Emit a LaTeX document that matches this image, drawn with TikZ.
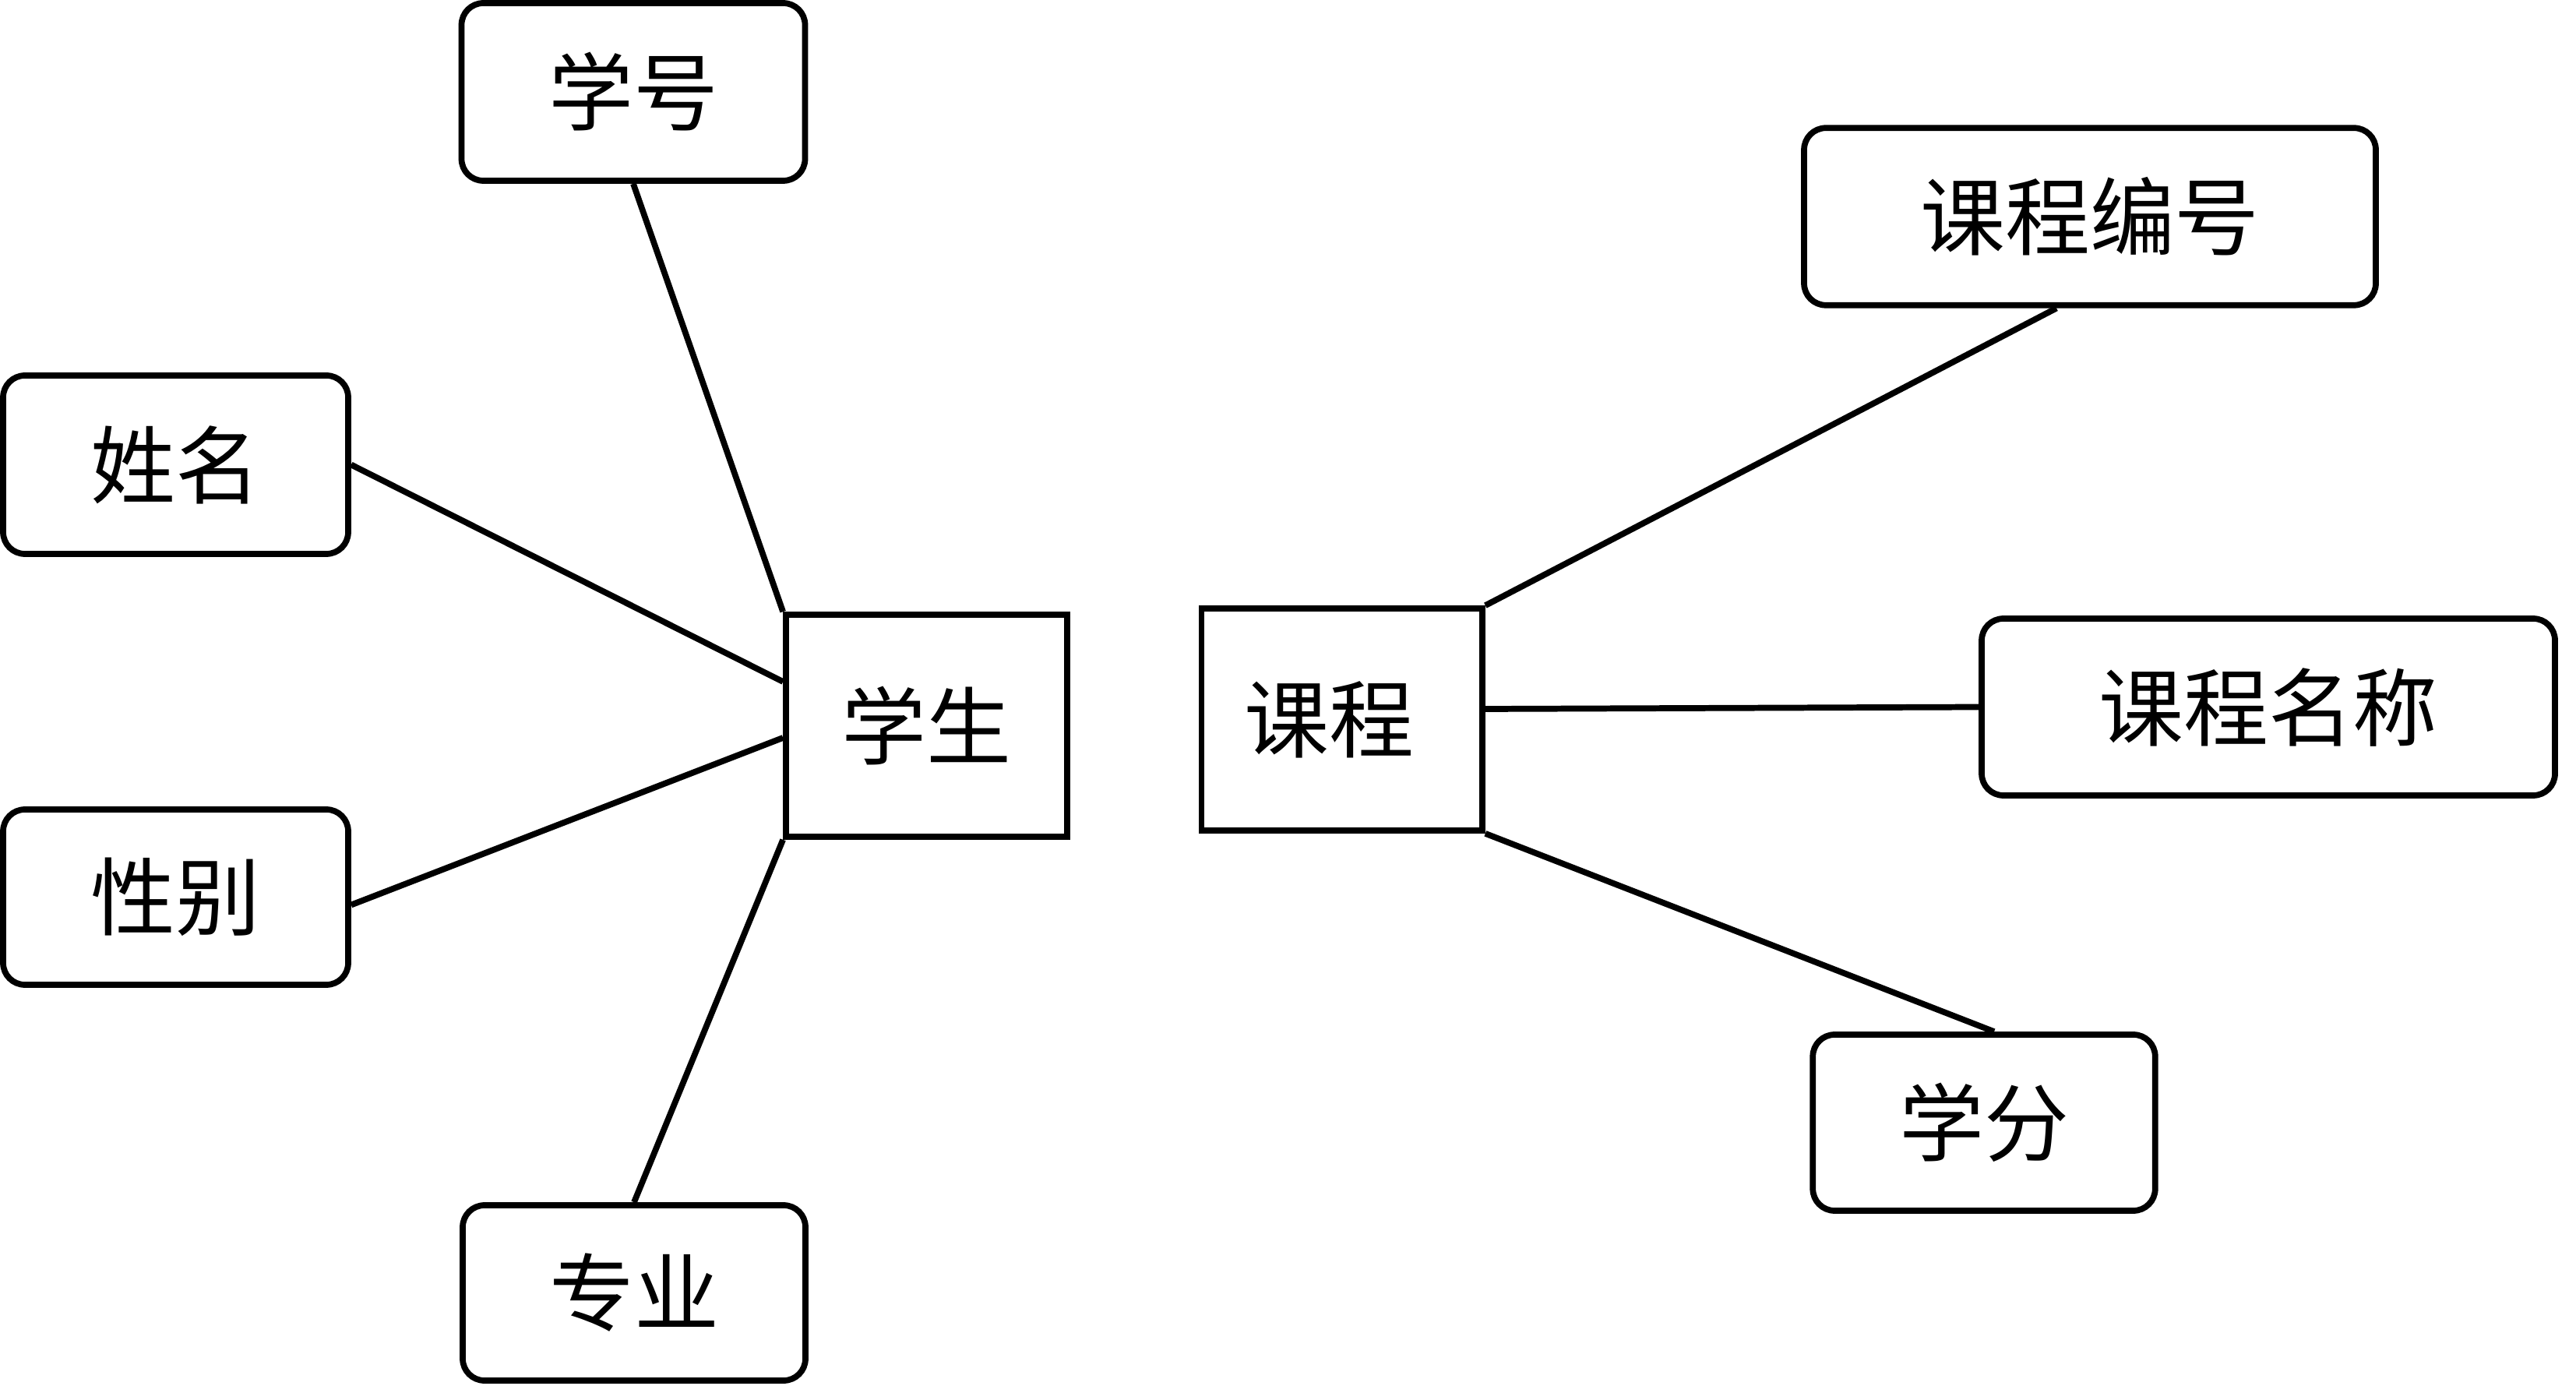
\documentclass[tikz,border=0pt]{standalone}
\usepackage{fontspec}
\setmainfont{Noto Sans CJK SC}
\begin{document}
\begin{tikzpicture}[
  attr/.style={draw, line width=2.2pt, rounded corners=0.28cm, inner sep=0pt,
    font=\fontsize{31pt}{31pt}\selectfont},
  ent/.style={draw, line width=2.2pt, inner sep=0pt,
    font=\fontsize{31pt}{31pt}\selectfont},
  conn/.style={line width=2.2pt}
]
\useasboundingbox (0,0) rectangle (33.07,-17.79);
% attributes of student
\node[attr, minimum width=4.41cm, minimum height=2.28cm] (xh) at (8.13,-1.18) {学号};
\node[attr, minimum width=4.43cm, minimum height=2.29cm] (xm) at (2.255,-5.965) {姓名};
\node[attr, minimum width=4.43cm, minimum height=2.25cm] (xb) at (2.255,-11.515) {性别};
\node[attr, minimum width=4.40cm, minimum height=2.25cm] (zy) at (8.14,-16.595) {专业};
% entities
\node[ent, minimum width=3.61cm, minimum height=2.85cm] (xs) at (11.895,-9.315) {学生};
\node[ent, minimum width=3.605cm, minimum height=2.85cm] (kc) at (17.2275,-9.235) {课程\kern0.335cm};
% attributes of course
\node[attr, minimum width=7.34cm, minimum height=2.275cm] (kb) at (26.83,-2.78) {课程编号};
\node[attr, minimum width=7.36cm, minimum height=2.27cm] (km) at (29.12,-9.075) {课程名称};
\node[attr, minimum width=4.395cm, minimum height=2.26cm] (xf) at (25.47,-14.41) {学分};
% connectors
\draw[conn] (xh.south) -- (xs.north west);
\draw[conn] (xm.east) -- ([yshift=0.565cm]xs.west);
\draw[conn] ([yshift=-0.1cm]xb.east) -- ([yshift=-0.155cm]xs.west);
\draw[conn] (zy.north) -- (xs.south west);
\draw[conn] (kc.north east) -- ([xshift=-0.43cm]kb.south);
\draw[conn] ([yshift=0.135cm]kc.east) -- (km.west);
\draw[conn] (kc.south east) -- ([xshift=0.13cm]xf.north);
\end{tikzpicture}
\end{document}
